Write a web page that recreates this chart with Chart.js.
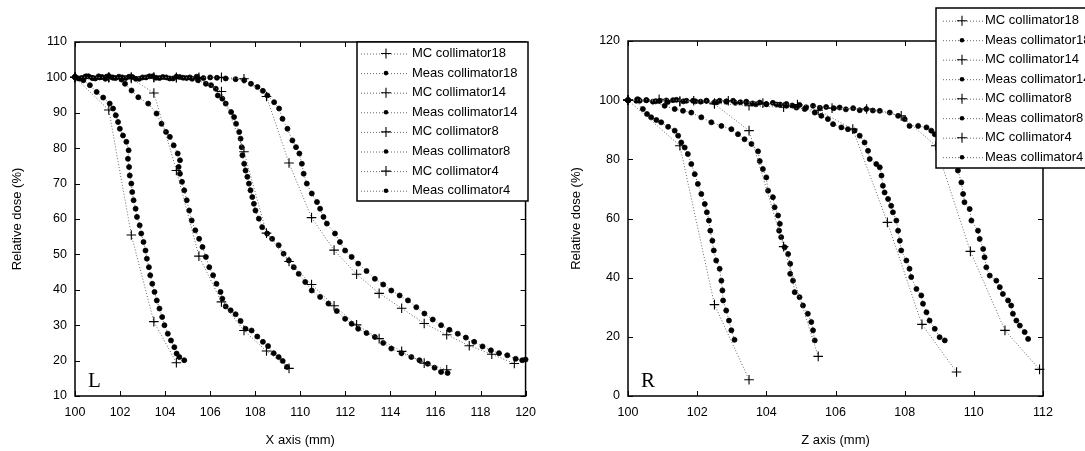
<!DOCTYPE html>
<html>
<head>
<meta charset="utf-8">
<script src="https://cdn.jsdelivr.net/npm/chart.js@4.4.1/dist/chart.umd.min.js"></script>
<style>
  body { margin: 0; background: #fff; width: 1085px; height: 451px; overflow: hidden; position: relative; }
  canvas { position: absolute; top: 0; }
</style>
</head>
<body>
<canvas id="leftChart" width="545" height="451" style="left:0"></canvas>
<canvas id="rightChart" width="540" height="451" style="left:545px"></canvas>
<script>
// ---- L panel (X axis) ----
const mc18LX = [100, 101.5, 102.5, 103.5, 104.5, 105.5, 106.5, 107.5, 108.5, 109.5, 110.5, 111.5, 112.5, 113.5, 114.5, 115.5, 116.5, 117.5, 118.5, 119.5];
const mc18LY = [100, 100, 100, 100, 100, 100, 100, 99.6, 94.6, 75.8, 60.4, 51.2, 44.4, 39, 34.8, 30.5, 27.3, 24.2, 21.8, 19.2];
const meas18LX = [100, 100.3, 100.6, 100.9, 101.2, 101.5, 101.8, 102.1, 102.4, 102.7, 103, 103.3, 103.6, 103.9, 104.2, 104.5, 104.8, 105.1, 105.4, 105.7, 106, 106.3, 106.69, 107.13,
  107.51, 107.81, 108.1, 108.34, 108.54, 108.84, 109.06, 109.21, 109.43, 109.65, 109.81, 109.96, 110.07, 110.15, 110.29, 110.51, 110.74, 110.88, 111.03, 111.18,
  111.54, 111.76, 111.99, 112.28, 112.57, 112.94, 113.31, 113.68, 114.04, 114.41, 114.78, 115.15, 115.51, 115.88, 116.25, 116.62, 116.99, 117.35, 117.72, 118.09,
  118.46, 118.82, 119.19, 119.56, 119.85, 120];
const meas18LY = [100.1, 99.8, 100.3, 99.7, 100.1, 100.4, 99.8, 100, 100.2, 99.6, 100, 100.3, 99.9, 100.1, 99.7, 100.2, 99.9, 100, 100.2, 99.8, 100, 99.9, 99.7, 99.5,
  99.2, 98.2, 97.3, 96.2, 94.9, 93, 91.2, 88.3, 85.5, 82.2, 80.3, 78.5, 75.6, 72.8, 70, 67.2, 64.8, 62.9, 60.6, 58.7,
  55.9, 53.5, 51.1, 49.3, 47.4, 45.3, 43.1, 41.5, 39.8, 38.4, 37, 35.1, 33.3, 31.6, 30, 28.7, 27.6, 26.5, 25.3, 24,
  22.9, 22.1, 21.5, 20.5, 20.1, 20.3];

const mc14LX = [100, 101.5, 102.5, 103.5, 104.5, 105.5, 106.5, 107.5, 108.5, 109.5, 110.5, 111.5, 112.5, 113.5, 114.5, 115.5, 116.5];
const mc14LY = [100, 100, 100, 100, 99.9, 99.7, 96, 79, 56, 48, 41.5, 35.5, 30.1, 26.2, 22.6, 19.3, 17.4];
const meas14LX = [100, 100.15, 100.45, 100.75, 101.05, 101.35, 101.65, 101.95, 102.25, 102.55, 102.85, 103.15, 103.45, 103.75, 104.05, 104.35, 104.65, 104.95, 105.2,
  105.46, 105.81, 106.04, 106.25, 106.34, 106.54, 106.69, 106.93, 107.06, 107.15, 107.29, 107.35, 107.4, 107.43, 107.51, 107.57, 107.65, 107.72, 107.79, 107.87,
  107.94, 108.01, 108.16, 108.31, 108.53, 108.75, 109.04, 109.26, 109.49, 109.71, 109.93, 110.22, 110.51, 110.88, 111.25, 111.62, 111.99, 112.28, 112.57, 112.94,
  113.31, 113.68, 114.04, 114.49, 114.93, 115.29, 115.66, 115.96, 116.25, 116.54];
const meas14LY = [100.1, 99.7, 100.2, 99.9, 100.3, 99.6, 100, 100.2, 99.8, 100.1, 99.6, 100, 100.3, 99.8, 100, 99.7, 100.1, 99.8, 99.6,
  99.2, 98.2, 97.8, 96.8, 94.9, 94, 92.6, 90.2, 88.8, 86.9, 84.6, 82.7, 80.3, 78, 75.6, 73.7, 71.9, 70, 68.1, 66.2,
  64.3, 62.4, 60.1, 57.7, 55.9, 54.4, 52.6, 50.2, 48.3, 46.4, 44.5, 42.2, 39.8, 38, 36.1, 34, 31.8, 30.4, 29, 27.8,
  26.7, 25, 23.4, 22.1, 21, 20.1, 19.1, 18, 16.8, 16.5];

const mc8LX = [100, 101.5, 102.5, 103.5, 104.5, 105.5, 106.5, 107.5, 108.5, 109.5];
const mc8LY = [100, 100, 99.7, 95.6, 73.7, 49.5, 36.6, 28.5, 22.7, 17.8];
const meas8LX = [100, 100.25, 100.5, 100.8, 101.1, 101.4, 101.7, 102.06, 102.22, 102.51, 102.81, 103.25, 103.62, 103.84, 104.04, 104.21, 104.38, 104.56,
  104.66, 104.6, 104.66, 104.75, 104.85, 104.96, 105.07, 105.18, 105.34, 105.51, 105.66, 105.81, 105.96, 106.13, 106.28, 106.46, 106.54, 106.69, 106.91,
  107.13, 107.35, 107.57, 107.84, 108.09, 108.34, 108.57, 108.82, 109.04, 109.22, 109.41];
const meas8LY = [100.1, 99.7, 100.3, 99.8, 100, 100.2, 99.9, 99.4, 98.2, 96.3, 94.4, 92.6, 89.8, 86.9, 84.6, 83.2, 80.8, 78.5,
  76.6, 74.7, 72.8, 70.5, 68.1, 65.3, 62.4, 59.6, 56.8, 54.4, 52.1, 49.3, 46.4, 44.1, 41.7, 39.4, 37.5, 35.3, 34.2,
  33.1, 31.2, 29, 28.5, 26.8, 25.3, 24.1, 22.1, 21, 19.9, 18.2];

const mc4LX = [100, 101.5, 102.5, 103.5, 104.5];
const mc4LY = [100, 90.8, 55.5, 31, 19.4];
const meas4LX = [100, 100.37, 100.66, 100.96, 101.25, 101.54, 101.69, 101.81, 101.91, 101.99, 102.13, 102.28, 102.38, 102.35, 102.4, 102.43, 102.5, 102.54, 102.6, 102.69,
  102.75, 102.87, 102.94, 103.04, 103.13, 103.19, 103.28, 103.34, 103.43, 103.53, 103.63, 103.75, 103.87, 103.97, 104.12, 104.26, 104.41, 104.51, 104.63, 104.85];
const meas4LY = [100.1, 99.2, 97.8, 95.9, 94.3, 92.6, 91.2, 89.3, 87.4, 85.5, 83.6, 81.8, 79.4, 77, 74.7, 72.3, 70, 67.6, 65.3, 62.9,
  60.6, 58.2, 55.9, 53.5, 51.1, 48.8, 46.4, 44.1, 41.7, 39.4, 37, 34.7, 32.3, 30, 27.6, 25.7, 23.8, 22, 21, 20.1];

// ---- R panel (Z axis) ----
const mc18RX = [100, 100.9, 101.9, 102.9, 103.9, 104.9, 105.9, 106.9, 107.9, 108.9, 109.9, 110.9, 111.9];
const mc18RY = [100, 100.3, 99.8, 99.8, 99, 98.5, 97.3, 97, 94.7, 84.6, 48.9, 22.2, 9];
const meas18RX = [100, 100.27, 100.53, 100.92, 101.15, 101.3, 101.6, 101.88, 102.1, 102.27, 102.5, 102.65, 102.85, 103.04, 103.25, 103.42, 103.6, 103.81, 104, 104.19,
  104.4, 104.58, 104.75, 104.96, 105.15, 105.35, 105.55, 105.73, 105.95, 106.12, 106.3, 106.51, 106.7, 106.89, 107.08, 107.28, 107.57, 107.81, 108, 108.14,
  108.39, 108.63, 108.77, 108.87, 109.11, 109.3, 109.45, 109.54, 109.64, 109.69, 109.73, 109.88, 109.93, 110.12, 110.17, 110.27, 110.31, 110.36, 110.46, 110.65,
  110.75, 110.84, 110.99, 111.08, 111.13, 111.23, 111.33, 111.47, 111.57];
const meas18RY = [100, 100.3, 100, 99.8, 99.4, 100, 99.6, 99.8, 99.5, 99.8, 99.3, 99.8, 99.6, 99.8, 99.3, 99.5, 98.9, 99.2, 98.6, 99.1,
  98.5, 98.7, 98.2, 98.4, 97.6, 98.1, 97.4, 97.7, 97.3, 97.5, 96.9, 97.3, 96.6, 97, 96.5, 96.4, 95.8, 94.7, 93.6, 91.3,
  91.3, 90.8, 89.7, 88.5, 85.2, 81.8, 78.4, 76.2, 72.2, 68.3, 65.5, 63.2, 59.3, 55.9, 53.1, 49.7, 46.9, 43.5, 40.7, 39,
  36.8, 34.5, 32.3, 30.6, 27.8, 25.5, 23.8, 21.6, 19.3];

const mc14RX = [100, 101.5, 102.5, 103.5, 104.5, 105.5, 106.5, 107.5, 108.5, 109.5];
const mc14RY = [100, 99.6, 99, 98.1, 97.6, 96.6, 90.2, 58.7, 24.2, 8.1];
const meas14RX = [100, 100.3, 100.53, 100.8, 101.11, 101.4, 101.69, 101.95, 102.27, 102.55, 102.84, 103.1, 103.42, 103.7, 104, 104.3, 104.58, 104.87, 105.11, 105.4,
  105.59, 105.78, 105.93, 106.17, 106.36, 106.55, 106.7, 106.84, 106.94, 106.99, 107.18, 107.28, 107.33, 107.37, 107.42, 107.52, 107.61, 107.66, 107.76, 107.81,
  107.86, 107.9, 108.05, 108.14, 108.19, 108.34, 108.48, 108.53, 108.63, 108.72, 108.87, 109.01, 109.16];
const meas14RY = [100, 100.2, 100, 99.6, 99.9, 100.1, 99.8, 99.6, 99.8, 99.3, 99.5, 99.1, 99.2, 98.6, 98.7, 98.5, 98.1, 97.5, 97, 95.8,
  94.7, 93.6, 91.9, 90.8, 90.2, 89.7, 88, 85.7, 82.9, 80.1, 78.4, 77.3, 74.5, 71.1, 68.8, 66.6, 64.3, 62.1, 59.3, 55.9,
  52.5, 49.2, 45.8, 43, 40.2, 36.2, 34, 31.2, 28.3, 25.5, 22.7, 19.9, 18.8];

const mc8RX = [100, 101.5, 102.5, 103.5, 104.5, 105.5];
const mc8RY = [100, 99.6, 98.7, 89.7, 50.5, 13.4];
const meas8RX = [100, 100.34, 100.72, 101.06, 101.35, 101.59, 101.83, 102.12, 102.41, 102.7, 102.99, 103.18, 103.37, 103.57, 103.76, 103.81, 103.9, 104, 104.05,
  104.19, 104.24, 104.34, 104.39, 104.37, 104.43, 104.53, 104.63, 104.69, 104.69, 104.77, 104.82, 104.96, 105.06, 105.2, 105.3, 105.35, 105.4];
const meas8RY = [100, 99.8, 99.5, 98.1, 97, 96.4, 95.8, 94.2, 92.5, 91.3, 90.2, 88.5, 86.8, 85.2, 82.7, 79.4, 76.7, 73.9, 69.4,
  67.2, 63.8, 61, 58.2, 55.9, 53.7, 50.3, 48, 44.7, 41.3, 39, 35.1, 33.4, 30.6, 27.8, 25, 22.2, 18.8];

const mc4RX = [100, 101.5, 102.5, 103.5];
const mc4RY = [100, 84.6, 30.9, 5.5];
const meas4RX = [100, 100.24, 100.43, 100.55, 100.67, 100.82, 100.96, 101.16, 101.35, 101.45, 101.54, 101.64, 101.73, 101.83, 101.93, 102.02, 102.12, 102.22, 102.28, 102.34,
  102.38, 102.44, 102.48, 102.55, 102.65, 102.7, 102.73, 102.75, 102.84, 102.92, 102.99, 103.08];
const meas4RY = [100, 99.8, 97, 95.3, 94.2, 93.3, 92.5, 91, 89.7, 88, 85.7, 84, 81.8, 78.4, 75, 71.7, 68.3, 64.9, 62.1, 59.3,
  55.9, 52.5, 49.2, 45.8, 43, 39, 35.7, 32.3, 28.9, 25.5, 22.2, 19];

const seriesNames = ['MC collimator18', 'Meas collimator18', 'MC collimator14', 'Meas collimator14',
  'MC collimator8', 'Meas collimator8', 'MC collimator4', 'Meas collimator4'];

Chart.defaults.font.family = '"Liberation Sans", Arial, sans-serif';
Chart.defaults.color = '#000';

function pts(xs, ys) {
  return xs.map((x, i) => ({ x: x, y: ys[i] }));
}

function mcSet(label, xs, ys) {
  return {
    label, data: pts(xs, ys), showLine: true,
    borderColor: '#666', borderWidth: 1, borderDash: [1, 2],
    pointStyle: 'cross', pointRadius: 4.8, pointBorderColor: '#000', pointBorderWidth: 1.1,
    pointBackgroundColor: '#000', clip: 6
  };
}

function measSet(label, xs, ys) {
  return {
    label, data: pts(xs, ys), showLine: true,
    borderColor: '#666', borderWidth: 1, borderDash: [1, 2],
    pointStyle: 'circle', pointRadius: 2.5, pointBorderColor: '#000', pointBorderWidth: 0.8,
    pointBackgroundColor: '#000', clip: 6
  };
}

// frame, inward ticks on all 4 sides, legend box and panel letter
function panelPlugin(cfg) {
  return {
    id: 'panel_' + cfg.letter,
    afterDraw(chart) {
      const ctx = chart.ctx;
      const a = chart.chartArea;
      const xs = chart.scales.x, ys = chart.scales.y;
      ctx.save();
      ctx.strokeStyle = '#000';
      ctx.lineWidth = 1.5;
      ctx.strokeRect(a.left, a.top, a.right - a.left, a.bottom - a.top);
      ctx.lineWidth = 1;
      ctx.beginPath();
      xs.ticks.forEach(t => {
        const px = Math.round(xs.getPixelForValue(t.value)) + 0.5;
        ctx.moveTo(px, a.bottom); ctx.lineTo(px, a.bottom - 5);
        ctx.moveTo(px, a.top); ctx.lineTo(px, a.top + 5);
      });
      ys.ticks.forEach(t => {
        const py = Math.round(ys.getPixelForValue(t.value)) + 0.5;
        ctx.moveTo(a.left, py); ctx.lineTo(a.left + 5, py);
        ctx.moveTo(a.right, py); ctx.lineTo(a.right - 5, py);
      });
      ctx.stroke();

      // letter
      ctx.fillStyle = '#000';
      ctx.font = '21px "Liberation Serif", "Times New Roman", serif';
      ctx.textBaseline = 'alphabetic';
      ctx.fillText(cfg.letter, a.left + 13, a.bottom - 9);

      // legend
      const lg = cfg.legend;
      ctx.fillStyle = '#fff';
      ctx.fillRect(lg.left, lg.top, lg.width, lg.height);
      ctx.strokeStyle = '#000';
      ctx.lineWidth = 1.5;
      ctx.strokeRect(lg.left, lg.top, lg.width, lg.height);
      ctx.font = '13px "Liberation Sans", Arial, sans-serif';
      ctx.textBaseline = 'middle';
      chart.data.datasets.forEach((ds, i) => {
        const y = lg.top + lg.firstRow + i * lg.rowH;
        ctx.strokeStyle = '#666';
        ctx.lineWidth = 1;
        ctx.setLineDash([1, 2]);
        ctx.beginPath();
        ctx.moveTo(lg.left + lg.line1, y + 0.5);
        ctx.lineTo(lg.left + lg.line2, y + 0.5);
        ctx.stroke();
        ctx.setLineDash([]);
        const mx = lg.left + lg.marker;
        ctx.strokeStyle = '#000';
        ctx.fillStyle = '#000';
        if (ds.pointStyle === 'cross') {
          ctx.lineWidth = 1.1;
          ctx.beginPath();
          ctx.moveTo(mx - 5, y); ctx.lineTo(mx + 5, y);
          ctx.moveTo(mx, y - 5); ctx.lineTo(mx, y + 5);
          ctx.stroke();
        } else {
          ctx.beginPath();
          ctx.arc(mx, y, 2.3, 0, Math.PI * 2);
          ctx.fill();
        }
        ctx.fillStyle = '#000';
        ctx.fillText(ds.label, lg.left + lg.text, y);
      });
      ctx.restore();
    }
  };
}

function makeChart(id, sets, xCfg, yCfg, padding, yTitlePad, letter, legend) {
  new Chart(document.getElementById(id), {
    type: 'scatter',
    data: { datasets: sets },
    options: {
      responsive: false,
      animation: false,
      devicePixelRatio: 1,
      layout: { padding: padding },
      plugins: { legend: { display: false }, tooltip: { enabled: false } },
      scales: {
        x: {
          type: 'linear', min: xCfg.min, max: xCfg.max,
          grid: { display: false, drawTicks: false },
          border: { display: false },
          ticks: { stepSize: xCfg.step, padding: 9, font: { size: 12.5 }, color: '#000', maxRotation: 0 },
          title: { display: true, text: xCfg.title, font: { size: 13 }, color: '#000', padding: { top: 0, bottom: 3 } },
          afterFit: s => { s.height = 55; }
        },
        y: {
          type: 'linear', min: yCfg.min, max: yCfg.max,
          grid: { display: false, drawTicks: false },
          border: { display: false },
          ticks: { stepSize: yCfg.step, padding: 8, font: { size: 12.5 }, color: '#000' },
          title: { display: true, text: 'Relative dose (%)', font: { size: 13 }, color: '#000', padding: { top: yTitlePad, bottom: 0 } },
          afterFit: s => { s.width = yCfg.width; }
        }
      }
    },
    plugins: [panelPlugin({ letter: letter, legend: legend })]
  });
}

makeChart('leftChart', [
  mcSet(seriesNames[0], mc18LX, mc18LY), measSet(seriesNames[1], meas18LX, meas18LY),
  mcSet(seriesNames[2], mc14LX, mc14LY), measSet(seriesNames[3], meas14LX, meas14LY),
  mcSet(seriesNames[4], mc8LX, mc8LY), measSet(seriesNames[5], meas8LX, meas8LY),
  mcSet(seriesNames[6], mc4LX, mc4LY), measSet(seriesNames[7], meas4LX, meas4LY)
], { min: 100, max: 120, step: 2, title: 'X axis (mm)' },
   { min: 10, max: 110, step: 10, width: 75 },
   { top: 42, right: 17, left: 0, bottom: 0 }, 10, 'L',
   { left: 357, top: 42, width: 171, height: 159, firstRow: 11.5, rowH: 19.6, line1: 4, line2: 52, marker: 29, text: 55 });

makeChart('rightChart', [
  mcSet(seriesNames[0], mc18RX, mc18RY), measSet(seriesNames[1], meas18RX, meas18RY),
  mcSet(seriesNames[2], mc14RX, mc14RY), measSet(seriesNames[3], meas14RX, meas14RY),
  mcSet(seriesNames[4], mc8RX, mc8RY), measSet(seriesNames[5], meas8RX, meas8RY),
  mcSet(seriesNames[6], mc4RX, mc4RY), measSet(seriesNames[7], meas4RX, meas4RY)
], { min: 100, max: 112, step: 2, title: 'Z axis (mm)' },
   { min: 0, max: 120, step: 20, width: 83 },
   { top: 41, right: 42, left: 0, bottom: 0 }, 24, 'R',
   { left: 391, top: 8, width: 170, height: 160, firstRow: 12.7, rowH: 19.5, line1: 7, line2: 48, marker: 26, text: 49 });
</script>
</body>
</html>
